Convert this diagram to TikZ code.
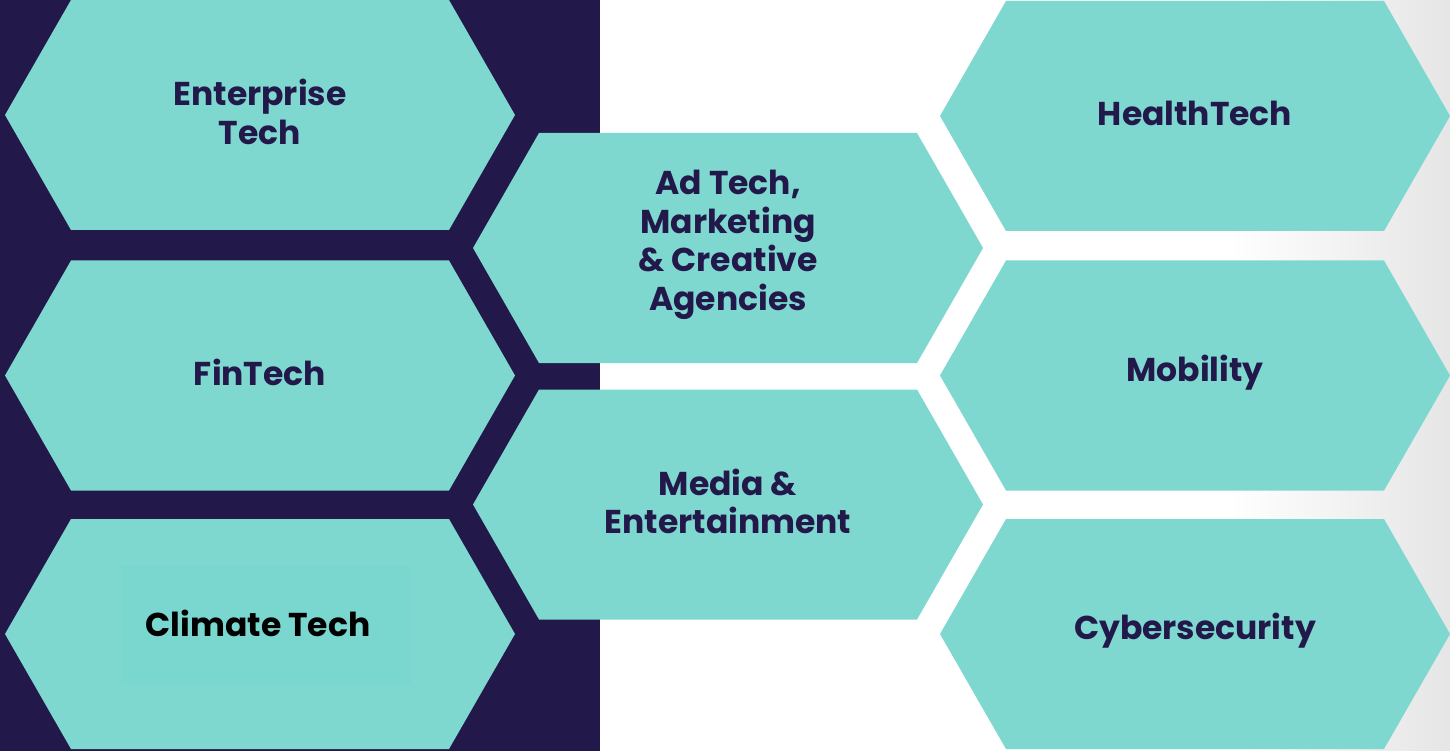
\documentclass[tikz,border=0pt]{standalone}
\usepackage{fontspec}
\setmainfont{Poppins}
\usepackage{tikz}

\definecolor{navy}{HTML}{22184A}
\definecolor{teal}{HTML}{7ED8D0}
\definecolor{boxteal}{HTML}{79D7CF}

% one hexagonal cell: name, centre x, centre y, text
\newcommand{\hexcell}[4]{%
  \fill[cellfill] (#2-255,#3) -- ++(66,115) -- ++(378,0) -- ++(66,-115)
    -- ++(-66,-115) -- ++(-378,0) -- cycle;
  \node[celltext] (#1) at (#2,#3) {#4};
}

\begin{document}
\begin{tikzpicture}[x=1pt, y=-1pt,
  cellfill/.style = {fill=teal},
  celltext/.style = {align=center, text=navy, yshift=3pt,
    font=\fontsize{33}{38.5}\selectfont\bfseries}
  ]
  \useasboundingbox (0,0) rectangle (1450,751);
  % backgrounds
  \fill[white] (0,0) rectangle (1450,751);
  \shade[left color=white, right color=gray!20] (1230,0) rectangle (1450,751);
  \fill[navy] (0,0) rectangle (600,751);

  % left column
  \hexcell{enterprise}{260}{115}{Enterprise\\Tech}
  \hexcell{fintech}{260}{375.5}{FinTech}
  \hexcell{climate}{260}{634}{}
  \node[fill=boxteal, minimum width=290, minimum height=118] (climatebox) at (266,625) {};
  \node[celltext, text=black] (climatetext) at (258,626) {Climate Tech};

  % middle column
  \hexcell{adtech}{728}{248}{Ad Tech,\\Marketing\\\& Creative\\Agencies}
  \hexcell{media}{728}{504.5}{Media \&\\Entertainment}

  % right column
  \hexcell{health}{1195}{116}{HealthTech}
  \hexcell{mobility}{1195}{375.5}{Mobility}
  \hexcell{cyber}{1195}{634}{Cybersecurity}
\end{tikzpicture}
\end{document}
